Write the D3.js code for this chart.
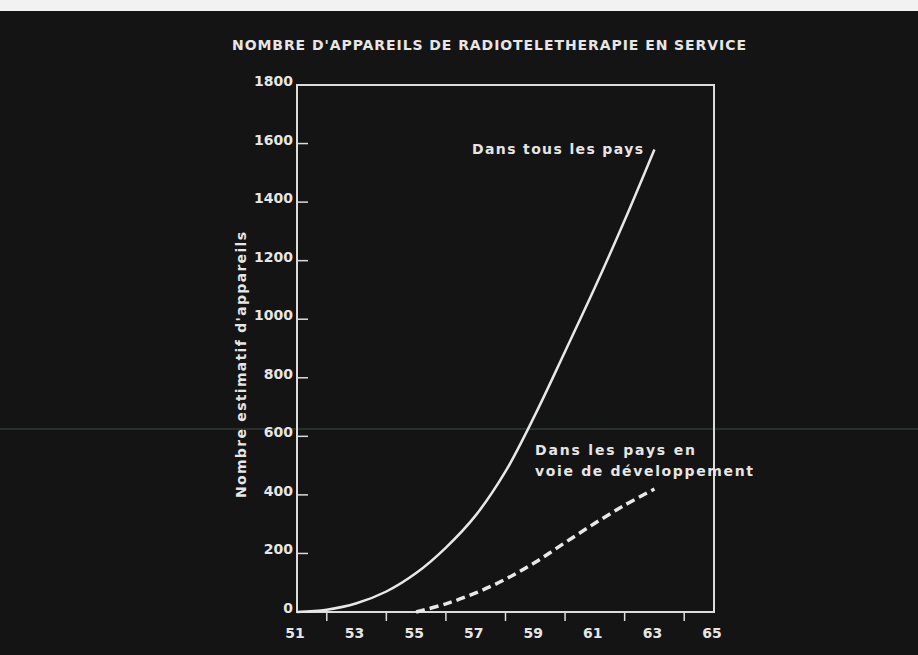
<!DOCTYPE html>
<html>
<head>
<meta charset="utf-8">
<script src="https://cdn.jsdelivr.net/npm/d3@7"></script>
<style>
  html, body { margin: 0; padding: 0; background: #141414; }
  svg { display: block; }
  text { font-family: "DejaVu Sans", sans-serif; font-weight: bold; fill: #e6e6e6; }
</style>
</head>
<body>
<script>

// années et valeurs
const allYears   = [51, 52, 53, 54, 55, 56, 57, 58, 59, 60, 61, 62, 63];
const allValues  = [0, 8, 30, 70, 133, 220, 330, 480, 675, 890, 1108, 1338, 1580];

const devYears   = [55, 56, 57, 58, 59, 60, 61, 62, 63];
const devValues  = [0, 28, 65, 112, 170, 237, 303, 365, 420];

const yTicks      = [0, 200, 400, 600, 800, 1000, 1200, 1400, 1600, 1800];
const xTickMarks  = [52, 54, 56, 58, 60, 62, 64];
const xTickLabels = [51, 53, 55, 57, 59, 61, 63, 65];

const TITLE  = "NOMBRE D'APPAREILS DE RADIOTELETHERAPIE EN SERVICE";
const YLABEL = "Nombre estimatif d'appareils";

const WIDTH  = 918,
      HEIGHT = 655;

const PLOT = { left: 297, right: 714, top: 85, bottom: 612 };

const svg = d3.select('body').append('svg')
  .attr('width', WIDTH)
  .attr('height', HEIGHT);

// fond
svg.append('rect')
  .attr('width', WIDTH)
  .attr('height', HEIGHT)
  .attr('fill', '#141414');

svg.append('rect')
  .attr('width', WIDTH)
  .attr('height', 11)
  .attr('fill', '#f2f2f2');

// trait du scanner
svg.append('line')
  .attr('x1', 0).attr('x2', WIDTH)
  .attr('y1', 429).attr('y2', 429)
  .attr('stroke', '#2b3b32')
  .attr('stroke-width', 1.5);

const x = d3.scaleLinear()
  .domain([51, 65])
  .range([PLOT.left, PLOT.right]);

const y = d3.scaleLinear()
  .domain([0, 1800])
  .range([PLOT.bottom, PLOT.top]);

// cadre
svg.append('path')
  .attr('d', `M${PLOT.left},${PLOT.top}H${PLOT.right}V${PLOT.bottom}H${PLOT.left}Z`)
  .attr('fill', 'none')
  .attr('stroke', '#dcdcdc')
  .attr('stroke-width', 2);

// graduations verticales
svg.selectAll('.ytick')
  .data(yTicks.filter((d) => d > 0 && d < 1800))
  .enter().append('line')
    .attr('class', 'ytick')
    .attr('x1', PLOT.left)
    .attr('x2', PLOT.left + 11)
    .attr('y1', (d) => y(d))
    .attr('y2', (d) => y(d))
    .attr('stroke', '#dcdcdc')
    .attr('stroke-width', 1.5);

svg.selectAll('.ylab')
  .data(yTicks)
  .enter().append('text')
    .attr('class', 'ylab')
    .attr('x', PLOT.left - 4)
    .attr('y', (d) => y(d) + 1)
    .attr('text-anchor', 'end')
    .style('font-size', '14px')
    .text((d) => d);

// graduations horizontales
svg.selectAll('.xtick')
  .data(xTickMarks)
  .enter().append('line')
    .attr('class', 'xtick')
    .attr('x1', (d) => x(d))
    .attr('x2', (d) => x(d))
    .attr('y1', PLOT.bottom)
    .attr('y2', PLOT.bottom + 9)
    .attr('stroke', '#dcdcdc')
    .attr('stroke-width', 1.5);

svg.selectAll('.xlab')
  .data(xTickLabels)
  .enter().append('text')
    .attr('class', 'xlab')
    .attr('x', (d) => x(d) - 2)
    .attr('y', PLOT.bottom + 26)
    .attr('text-anchor', 'middle')
    .style('font-size', '14px')
    .text((d) => d);

// courbes
const line = d3.line()
  .x((d) => x(d[0]))
  .y((d) => y(d[1]))
  .curve(d3.curveCatmullRom);

svg.append('path')
  .datum(d3.zip(allYears, allValues))
  .attr('d', line)
  .attr('fill', 'none')
  .attr('stroke', '#e8e8e8')
  .attr('stroke-width', 2.5);

svg.append('path')
  .datum(d3.zip(devYears, devValues))
  .attr('d', line)
  .attr('fill', 'none')
  .attr('stroke', '#e8e8e8')
  .attr('stroke-width', 3.5)
  .attr('stroke-dasharray', '9,5');

// textes
svg.append('text')
  .attr('x', 232)
  .attr('y', 50)
  .attr('textLength', 514)
  .attr('lengthAdjust', 'spacing')
  .style('font-size', '14px')
  .text(TITLE);

svg.append('text')
  .attr('transform', `translate(246, 365) rotate(-90)`)
  .attr('text-anchor', 'middle')
  .attr('textLength', 266)
  .attr('lengthAdjust', 'spacing')
  .style('font-size', '14px')
  .text(YLABEL);

const notes = [
  { t: 'Dans tous les pays', x: 472, y: 154, w: 171 },
  { t: 'Dans les pays en', x: 535, y: 455, w: 160 },
  { t: 'voie de développement', x: 535, y: 476, w: 218 }
];

svg.selectAll('.note')
  .data(notes)
  .enter().append('text')
    .attr('class', 'note')
    .attr('x', (d) => d.x)
    .attr('y', (d) => d.y)
    .attr('textLength', (d) => d.w)
    .attr('lengthAdjust', 'spacing')
    .style('font-size', '14px')
    .text((d) => d.t);

</script>
</body>
</html>
